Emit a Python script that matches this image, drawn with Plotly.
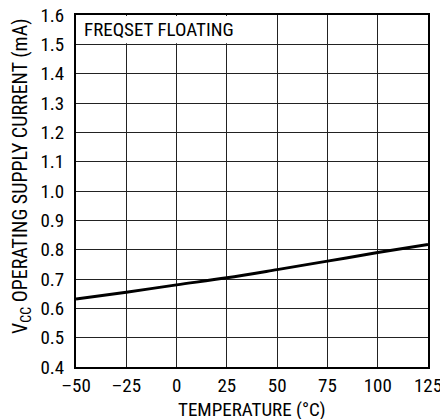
import plotly.graph_objects as go

temperature = [-50, -25, 0, 25, 50, 75, 100, 125]
current_ma = [0.632, 0.655, 0.680, 0.704, 0.732, 0.761, 0.790, 0.818]

x_ticks = [-50, -25, 0, 25, 50, 75, 100, 125]
x_ticktext = ["\u201350", "\u201325", "0", "25", "50", "75", "100", "125"]
y_ticks = [0.4, 0.5, 0.6, 0.7, 0.8, 0.9, 1.0, 1.1, 1.2, 1.3, 1.4, 1.5, 1.6]
y_ticktext = [f"{v:.1f}" for v in y_ticks]

FONT = "Liberation Sans Narrow, Arial Narrow, Roboto Condensed, Liberation Sans, sans-serif"
FS = 19

W, H = 440, 419
ML, MR, MT, MB = 76, 12, 15, 52
PW, PH = W - ML - MR, H - MT - MB

fig = go.Figure()
fig.add_trace(go.Scatter(
    x=temperature, y=current_ma, mode="lines",
    line=dict(color="black", width=3, shape="spline"),
    showlegend=False, hoverinfo="skip",
))

fig.add_shape(type="rect", xref="x", yref="y", x0=-49.5, x1=33, y0=1.504, y1=1.597,
              fillcolor="white", line=dict(width=0), layer="above")
fig.add_annotation(x=-47, y=1.55, xref="x", yref="y", text="FREQSET FLOATING",
                   showarrow=False, xanchor="left", yanchor="middle",
                   font=dict(family=FONT, size=FS, color="black"))

# axis titles
fig.add_annotation(x=(21 - ML) / PW, y=(H - MB - 176) / PH, xref="paper", yref="paper",
                   text="V<sub>CC</sub> OPERATING SUPPLY CURRENT (mA)", textangle=-90,
                   showarrow=False, xanchor="center", yanchor="middle",
                   font=dict(family=FONT, size=20, color="black"))
fig.add_annotation(x=0.5, y=-(409 - (H - MB)) / PH, xref="paper", yref="paper",
                   text="TEMPERATURE (\u00b0C)",
                   showarrow=False, xanchor="center", yanchor="middle",
                   font=dict(family=FONT, size=FS, color="black"))

fig.update_layout(
    width=W, height=H,
    margin=dict(l=ML, r=MR, t=MT, b=MB),
    paper_bgcolor="white", plot_bgcolor="white",
    font=dict(family=FONT, size=FS, color="black"),
)
fig.update_xaxes(
    range=[-50, 125], tickvals=x_ticks, ticktext=x_ticktext,
    showgrid=True, gridcolor="#222", gridwidth=1,
    showline=True, linecolor="black", linewidth=2, mirror=True,
    ticks="", zeroline=False, ticklabelstandoff=0, automargin=False,
    ticklabeloverflow="allow",
)
fig.update_yaxes(
    range=[0.4, 1.6], tickvals=y_ticks, ticktext=y_ticktext,
    showgrid=True, gridcolor="#222", gridwidth=1,
    showline=True, linecolor="black", linewidth=2, mirror=True,
    ticks="", zeroline=False, ticklabelstandoff=6, automargin=False,
    ticklabeloverflow="allow",
)

fig.write_html("out.html", config={"displayModeBar": False},
               post_script="document.body.style.margin='0';document.body.style.overflow='hidden';")
